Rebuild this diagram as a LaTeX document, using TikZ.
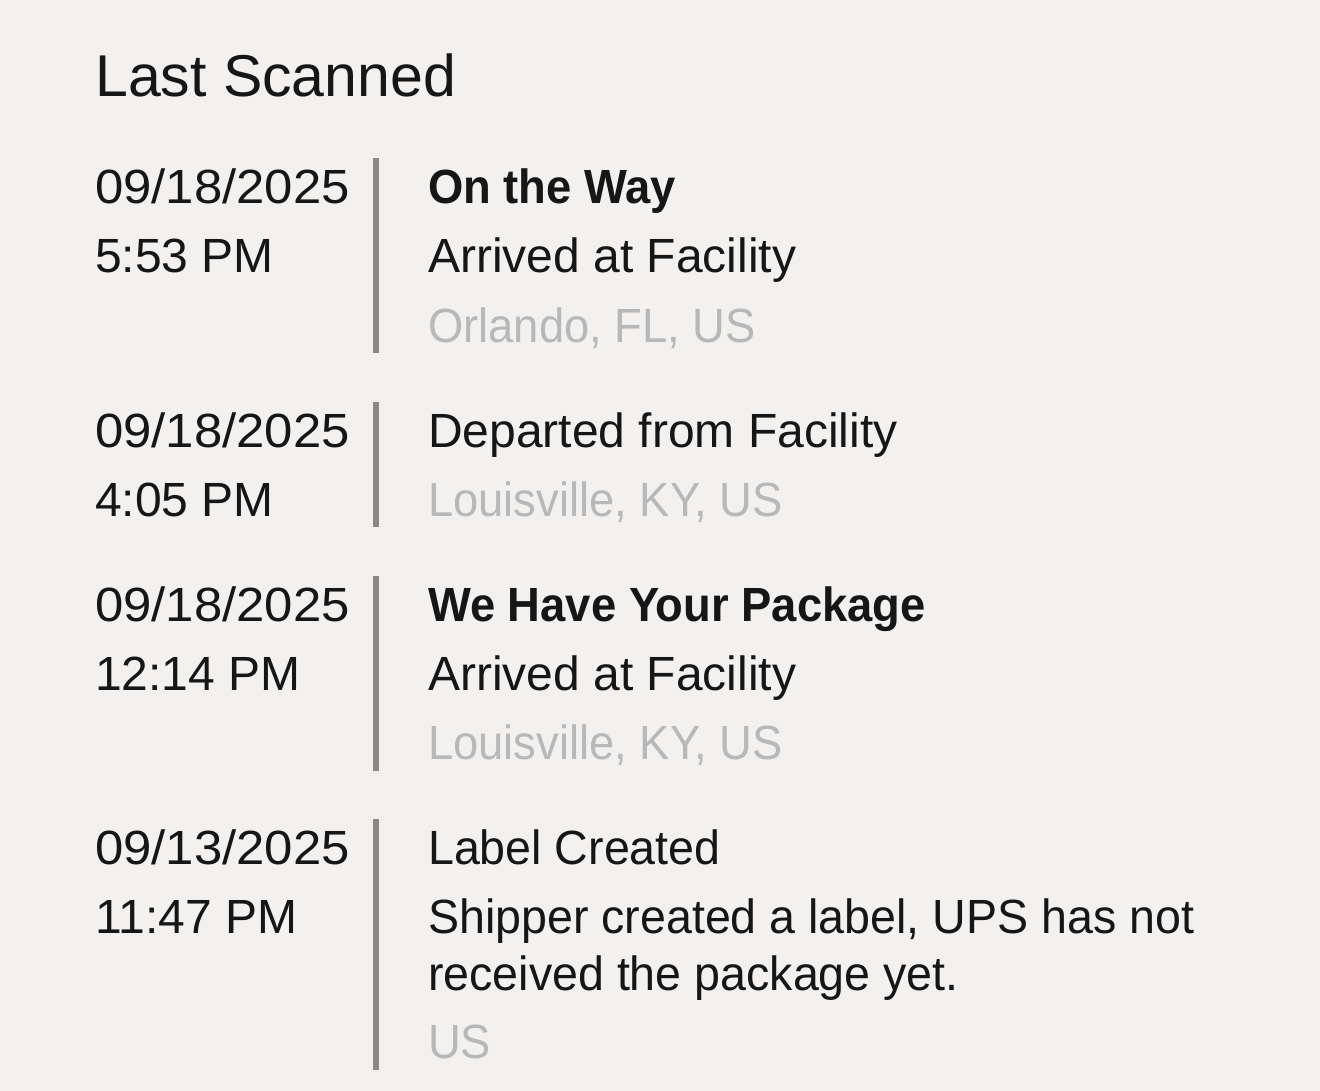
\documentclass[tikz,border=0pt]{standalone}
\usepackage{fontspec}
\setmainfont{Liberation Sans}
\newfontfamily\datefont[FakeStretch=1.06]{Liberation Sans}
\newfontfamily\narrowfont[FakeStretch=0.945]{Liberation Sans}
\newfontfamily\notefont[FakeStretch=0.97]{Liberation Sans}
\usepackage{xcolor}
\usepackage{tikz}

\definecolor{pagebg}{HTML}{F2F1EF}
\definecolor{ink}{HTML}{161616}
\definecolor{faint}{HTML}{B8B8B8}
\definecolor{rulegray}{HTML}{8A8787}

\begin{document}
\begin{tikzpicture}[x=1pt,y=-1pt,
  txt/.style={anchor=base west, inner sep=0pt, text=ink, font=\fontsize{48}{56}\selectfont},
  date/.style={txt, font=\fontsize{48}{56}\datefont},
  headline/.style={txt, font=\fontsize{48}{56}\narrowfont\bfseries},
  note/.style={txt, font=\fontsize{48}{56}\notefont},
  where/.style={txt, text=faint, font=\fontsize{48}{56}\narrowfont},
  bar/.style={draw=rulegray, line width=6pt}]
% Page
\fill[pagebg] (0,0) rectangle (1320,1091);
\useasboundingbox (0,0) rectangle (1320,1091);

% Title
\node[txt, font=\fontsize{59}{68}\selectfont] (title) at (95,97) {Last Scanned};

% Bars
\foreach \a/\b in {158/353,402/527,576/771,819/1070}
    \draw[bar] (376,\a) -- (376,\b);

% Scan 1
\node[date] (d1) at (95,204) {09/18/2025};
\node[txt] (t1) at (95,273) {5:53 PM};
\node[headline] (h1) at (428,204) {On the Way};
\node[txt] (s1) at (428,273) {Arrived at Facility};
\node[where] (w1) at (428,342) {Orlando, FL, US};

% Scan 2
\node[date] (d2) at (95,447) {09/18/2025};
\node[txt] (t2) at (95,516) {4:05 PM};
\node[txt] (s2) at (428,447) {Departed from Facility};
\node[where] (w2) at (428,516) {Louisville, KY, US};

% Scan 3
\node[date] (d3) at (95,621) {09/18/2025};
\node[txt] (t3) at (95,690) {12:14 PM};
\node[headline] (h3) at (428,621) {We Have Your Package};
\node[txt] (s3) at (428,690) {Arrived at Facility};
\node[where] (w3) at (428,759) {Louisville, KY, US};

% Scan 4
\node[date] (d4) at (95,864) {09/13/2025};
\node[txt] (t4) at (95,933) {11:47 PM};
\node[note] (s4) at (428,864) {Label Created};
\node[note] (n4a) at (428,933) {Shipper created a label, UPS has not};
\node[note] (n4b) at (428,990) {received the package yet.};
\node[where] (w4) at (428,1058) {US};
\end{tikzpicture}
\end{document}
